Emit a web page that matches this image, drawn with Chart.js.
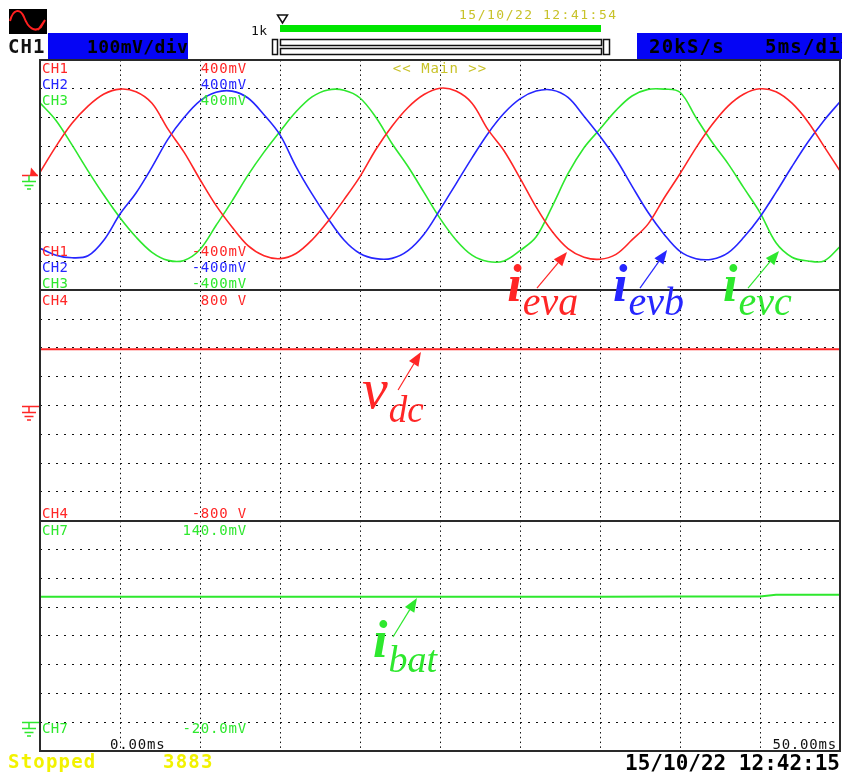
<!DOCTYPE html>
<html>
<head>
<meta charset="utf-8">
<title>Scope capture</title>
<script src="https://cdn.jsdelivr.net/npm/chart.js@4.4.0/dist/chart.umd.min.js"></script>
<style>
  html, body { margin: 0; padding: 0; background: #fff; overflow: hidden; }
  #scope { display: block; }
</style>
</head>
<body>
<canvas id="scope" width="842" height="773"></canvas>
<script>
// time base of the capture, 5 ms/div, 0 .. 50 ms
const timeMs = [0,1,2,3,4,5,6,7,8,9,10,11,12,13,14,15,16,17,18,19,20,21,22,23,24,25,
  26,27,28,29,30,31,32,33,34,35,36,37,38,39,40,41,42,43,44,45,46,47,48,49,50];

// CH1..CH3 phase currents, mV (100 mV/div)
const ch1Ieva = [10,100,180,240,282,299,290,250,160,80,-15,-105,-180,-245,-280,-290,-272,-225,-160,-85,
  -5,90,170,235,280,302,292,250,158,85,-10,-110,-195,-255,-285,-292,-275,-225,-170,-80,
  5,95,175,240,282,300,290,250,185,100,15];
const ch2Ievb = [-254,-278,-287,-280,-225,-135,-62,28,125,200,258,288,292,268,210,140,30,-65,-150,-225,
  -272,-290,-289,-262,-205,-120,-30,60,145,215,265,292,296,270,205,135,56,-38,-129,-205,
  -265,-290,-292,-270,-215,-145,-60,30,115,190,255];
const ch3Ievc = [251,190,105,15,-70,-148,-215,-268,-296,-296,-258,-175,-90,0,80,152,220,272,296,295,
  268,200,110,30,-60,-150,-225,-278,-300,-298,-262,-215,-110,5,95,160,225,275,298,299,
  288,200,115,40,-45,-130,-235,-285,-298,-298,-248];

// CH4 dc link voltage (V) and CH7 battery current (mV)
const dcTimeMs = [0,5,10,15,20,25,30,35,40,45,50];
const ch4Vdc = [390,390,390,390,390,390,390,390,390,390,390];
const batTimeMs = [0,5,10,15,20,25,30,35,40,45,46,50];
const ch7Ibat = [87.2,87.2,87.2,87.2,87.2,87.2,87.2,87.2,87.3,87.3,88.5,88.6];

// on-screen scale labels
const chanNames = ['CH1', 'CH2', 'CH3'];
const chanTopLabels = ['400mV', '400mV', '400mV'];
const chanBottomLabels = ['-400mV', '-400mV', '-400mV'];
const ch4Labels = ['800 V', '-800 V'];
const ch7Labels = ['140.0mV', '-20.0mV'];
const timeLabels = ['0.00ms', '50.00ms'];

const RED = '#ff2626';
const BLUE = '#2626ff';
const GREEN = '#2ee82e';
const OLIVE = '#c8c228';
const YELLOW = '#f2f200';
const FRAME = '#2a2a2a';
const DOTS = '#111';
const MONO = '"DejaVu Sans Mono", "Liberation Mono", monospace';
const SERIF = '"Liberation Serif", "DejaVu Serif", serif';

const pts = (xs, ys) => xs.map((x, i) => ({ x: x, y: ys[i] }));

function txt(c, s, x, y, font, color, align, ls) {
  c.font = font;
  c.fillStyle = color;
  c.textAlign = align || 'left';
  c.textBaseline = 'alphabetic';
  c.letterSpacing = (ls || 0) + 'px';
  c.fillText(s, x, y);
  c.letterSpacing = '0px';
}

function ground(c, x, y, color, barTop) {
  c.strokeStyle = color;
  c.lineWidth = 1.5;
  c.beginPath();
  if (barTop) { c.moveTo(x - 7, y); c.lineTo(x + 10, y); }
  c.moveTo(x, y); c.lineTo(x, y + 6);
  c.moveTo(x - 7, y + 6); c.lineTo(x + 7, y + 6);
  c.moveTo(x - 4.5, y + 10); c.lineTo(x + 4.5, y + 10);
  c.moveTo(x - 2, y + 13.5); c.lineTo(x + 2, y + 13.5);
  c.stroke();
}

function arrow(c, x0, y0, x1, y1, color) {
  const a = Math.atan2(y1 - y0, x1 - x0);
  const len = 14, half = 5.5;
  const bx = x1 - len * Math.cos(a), by = y1 - len * Math.sin(a);
  c.strokeStyle = color;
  c.fillStyle = color;
  c.lineWidth = 1.2;
  c.beginPath(); c.moveTo(x0, y0); c.lineTo(bx, by); c.stroke();
  c.beginPath();
  c.moveTo(x1, y1);
  c.lineTo(bx + half * Math.sin(a), by - half * Math.cos(a));
  c.lineTo(bx - half * Math.sin(a), by + half * Math.cos(a));
  c.closePath(); c.fill();
}

// annotations placed in data units of their own panel
const notes = [
  { main: 'i', sub: 'eva', color: RED, axis: 'yAbc', t: 29.2, v: -437, bold: true, size: 52, subSize: 40, dy: 14, arrow: [31.06, -392, 32.94, -267] },
  { main: 'i', sub: 'evb', color: BLUE, axis: 'yAbc', t: 35.81, v: -437, bold: true, size: 52, subSize: 40, dy: 14, arrow: [37.5, -392, 39.19, -260] },
  { main: 'i', sub: 'evc', color: GREEN, axis: 'yAbc', t: 42.69, v: -437, bold: true, size: 52, subSize: 40, dy: 14, arrow: [44.25, -392, 46.19, -263] },
  { main: 'v', sub: 'dc', color: RED, axis: 'yDc', t: 20.13, v: -17, bold: false, size: 58, subSize: 37, dy: 14, arrow: [22.38, 108, 23.81, 372] },
  { main: 'i', sub: 'bat', color: GREEN, axis: 'yBat', t: 20.81, v: 45.3, bold: true, size: 52, subSize: 38, dy: 15, arrow: [22.06, 59.2, 23.56, 86.3] }
];

const scopeDecor = {
  id: 'scopeDecor',
  beforeDraw(chart) {
    const c = chart.ctx;
    c.save();
    c.fillStyle = '#fff';
    c.fillRect(0, 0, chart.width, chart.height);
    c.restore();
  },
  afterDatasetsDraw(chart) {
    const c = chart.ctx;
    const area = chart.chartArea;
    const sx = chart.scales.x;
    const yA = chart.scales.yAbc, yD = chart.scales.yDc, yB = chart.scales.yBat;
    c.save();

    // panel dividers and outer frame
    c.strokeStyle = FRAME;
    c.lineWidth = 2;
    [yA.bottom, yD.bottom].forEach(function (yy) {
      const p = Math.round(yy);
      c.beginPath(); c.moveTo(area.left, p); c.lineTo(area.right, p); c.stroke();
    });
    c.strokeRect(area.left, area.top, area.right - area.left, area.bottom - area.top);

    // channel scale labels
    const lx = area.left + 2, rx = area.left + 207;
    const f = '14px ' + MONO;
    const cols = [RED, BLUE, GREEN];
    chanNames.forEach(function (n, i) {
      txt(c, n, lx, yA.top + 13 + i * 16, f, cols[i], 'left', 0.3);
      txt(c, chanTopLabels[i], rx, yA.top + 13 + i * 16, f, cols[i], 'right', 0.8);
      txt(c, n, lx, yA.bottom - 34 + i * 16, f, cols[i], 'left', 0.3);
      txt(c, chanBottomLabels[i], rx, yA.bottom - 34 + i * 16, f, cols[i], 'right', 0.8);
    });
    txt(c, 'CH4', lx, yD.top + 15, f, RED, 'left', 0.3);
    txt(c, ch4Labels[0], rx, yD.top + 15, f, RED, 'right', 0.8);
    txt(c, 'CH4', lx, yD.bottom - 3, f, RED, 'left', 0.3);
    txt(c, ch4Labels[1], rx, yD.bottom - 3, f, RED, 'right', 0.8);
    txt(c, 'CH7', lx, yB.top + 14, f, GREEN, 'left', 0.3);
    txt(c, ch7Labels[0], rx, yB.top + 14, f, GREEN, 'right', 0.8);
    txt(c, 'CH7', lx, yB.bottom - 18, f, GREEN, 'left', 0.3);
    txt(c, ch7Labels[1], rx, yB.bottom - 18, f, GREEN, 'right', 0.8);
    txt(c, '<< Main >>', (area.left + area.right) / 2, yA.top + 13, f, OLIVE, 'center', 1);
    txt(c, timeLabels[0], sx.getPixelForValue(0) + 70, area.bottom - 2, f, '#111', 'left', 0.8);
    txt(c, timeLabels[1], area.right - 3, area.bottom - 2, f, '#111', 'right', 0.8);

    // ground / offset markers left of the frame
    const g0 = Math.round(yA.getPixelForValue(0)) + 0.5;
    c.fillStyle = RED;
    c.beginPath(); c.moveTo(30, g0); c.lineTo(38, g0); c.lineTo(31, g0 - 8); c.closePath(); c.fill();
    c.strokeStyle = RED; c.lineWidth = 1.5;
    c.beginPath(); c.moveTo(22, g0); c.lineTo(38, g0); c.stroke();
    ground(c, 29, g0, GREEN, false);
    ground(c, 29, Math.round(yD.getPixelForValue(0)) + 0.5, RED, true);
    ground(c, 29, Math.round(yB.getPixelForValue(0)) + 0.5, GREEN, true);

    // signal name annotations with arrows
    notes.forEach(function (n) {
      const ys = chart.scales[n.axis];
      const px = sx.getPixelForValue(n.t), py = ys.getPixelForValue(n.v);
      const mf = (n.bold ? 'italic bold ' : 'italic ') + n.size + 'px ' + SERIF;
      txt(c, n.main, px, py, mf, n.color, 'left', 0);
      c.font = mf;
      const w = c.measureText(n.main).width;
      txt(c, n.sub, px + w + 1, py + n.dy, 'italic ' + n.subSize + 'px ' + SERIF, n.color, 'left', 0);
      arrow(c, sx.getPixelForValue(n.arrow[0]), ys.getPixelForValue(n.arrow[1]),
        sx.getPixelForValue(n.arrow[2]), ys.getPixelForValue(n.arrow[3]), n.color);
    });
    c.restore();
  },
  afterDraw(chart) {
    const c = chart.ctx;
    c.save();
    // channel icon
    c.fillStyle = '#000';
    c.fillRect(9, 9, 38, 25);
    c.strokeStyle = '#ff2020'; c.lineWidth = 2;
    c.beginPath();
    c.moveTo(10, 21);
    c.bezierCurveTo(13, 9, 20, 8, 24, 17);
    c.bezierCurveTo(28, 28, 35, 33, 41, 27);
    c.lineTo(45, 20); c.lineTo(38, 30);
    c.stroke();
    txt(c, 'CH1', 8, 53, 'bold 19px ' + MONO, '#111', 'left', 1);
    c.fillStyle = '#0505f5';
    c.fillRect(48, 33, 140, 26);
    txt(c, '100mV/div', 87, 53, 'bold 18px ' + MONO, '#000', 'left', 0.4);

    // record length bar
    txt(c, '1k', 251, 35, '13px ' + MONO, '#111', 'left', 0.5);
    c.strokeStyle = '#111'; c.lineWidth = 1.5;
    c.beginPath(); c.moveTo(277.5, 15); c.lineTo(287.5, 15); c.lineTo(282.5, 23); c.closePath(); c.stroke();
    c.fillStyle = '#00e600';
    c.fillRect(280, 25, 321, 7);
    txt(c, '15/10/22 12:41:54', 459, 19, '13px ' + MONO, OLIVE, 'left', 1.5);
    c.strokeRect(272.5, 39.5, 5, 15);
    c.strokeRect(280.5, 39.5, 321, 6);
    c.strokeRect(280.5, 48.5, 321, 6);
    c.strokeRect(603.5, 39.5, 6, 15);

    // sample rate / time base box
    c.fillStyle = '#0505f5';
    c.fillRect(637, 33, 205, 26);
    txt(c, '20kS/s', 649, 53, 'bold 19px ' + MONO, '#000', 'left', 1.2);
    txt(c, '5ms/div', 765, 53, 'bold 19px ' + MONO, '#000', 'left', 1.2);

    // status line
    txt(c, 'Stopped', 8, 768, 'bold 19px ' + MONO, YELLOW, 'left', 1.2);
    txt(c, '3883', 163, 768, 'bold 19px ' + MONO, YELLOW, 'left', 1.2);
    txt(c, '15/10/22 12:42:15', 840, 770, 'bold 21px ' + MONO, '#000', 'right', 0);
    c.restore();
  }
};

function yAxis(min, max, step, weight) {
  return {
    type: 'linear', position: 'left', stack: 'scope', stackWeight: 1, weight: weight,
    min: min, max: max,
    ticks: { display: false, stepSize: step },
    grid: { color: DOTS, lineWidth: 1, drawTicks: false, tickLength: 0 },
    border: { display: false, dash: [2, 6] },
    afterFit: function (s) { s.width = 0; }
  };
}

const ctx = document.getElementById('scope').getContext('2d');
const scopeChart = new Chart(ctx, {
  type: 'line',
  data: {
    datasets: [
      { data: pts(timeMs, ch1Ieva), yAxisID: 'yAbc', borderColor: RED, borderWidth: 1.6, pointRadius: 0, tension: 0.35 },
      { data: pts(timeMs, ch2Ievb), yAxisID: 'yAbc', borderColor: BLUE, borderWidth: 1.6, pointRadius: 0, tension: 0.35 },
      { data: pts(timeMs, ch3Ievc), yAxisID: 'yAbc', borderColor: GREEN, borderWidth: 1.6, pointRadius: 0, tension: 0.35 },
      { data: pts(dcTimeMs, ch4Vdc), yAxisID: 'yDc', borderColor: RED, borderWidth: 2, pointRadius: 0 },
      { data: pts(batTimeMs, ch7Ibat), yAxisID: 'yBat', borderColor: GREEN, borderWidth: 2, pointRadius: 0 }
    ]
  },
  options: {
    responsive: false,
    animation: false,
    devicePixelRatio: 1,
    layout: { padding: { left: 40, top: 60, right: 2, bottom: 22 } },
    plugins: { legend: { display: false }, tooltip: { enabled: false } },
    scales: {
      x: {
        type: 'linear', min: 0, max: 50,
        ticks: { display: false, stepSize: 5 },
        grid: { color: DOTS, lineWidth: 1, drawTicks: false, tickLength: 0 },
        border: { display: false, dash: [1.5, 3.3] },
        afterFit: function (s) { s.height = 0; }
      },
      yAbc: yAxis(-400, 400, 100, 3),
      yDc: yAxis(-800, 800, 200, 2),
      yBat: yAxis(-20, 140, 20, 1)
    }
  },
  plugins: [scopeDecor]
});
</script>
</body>
</html>
